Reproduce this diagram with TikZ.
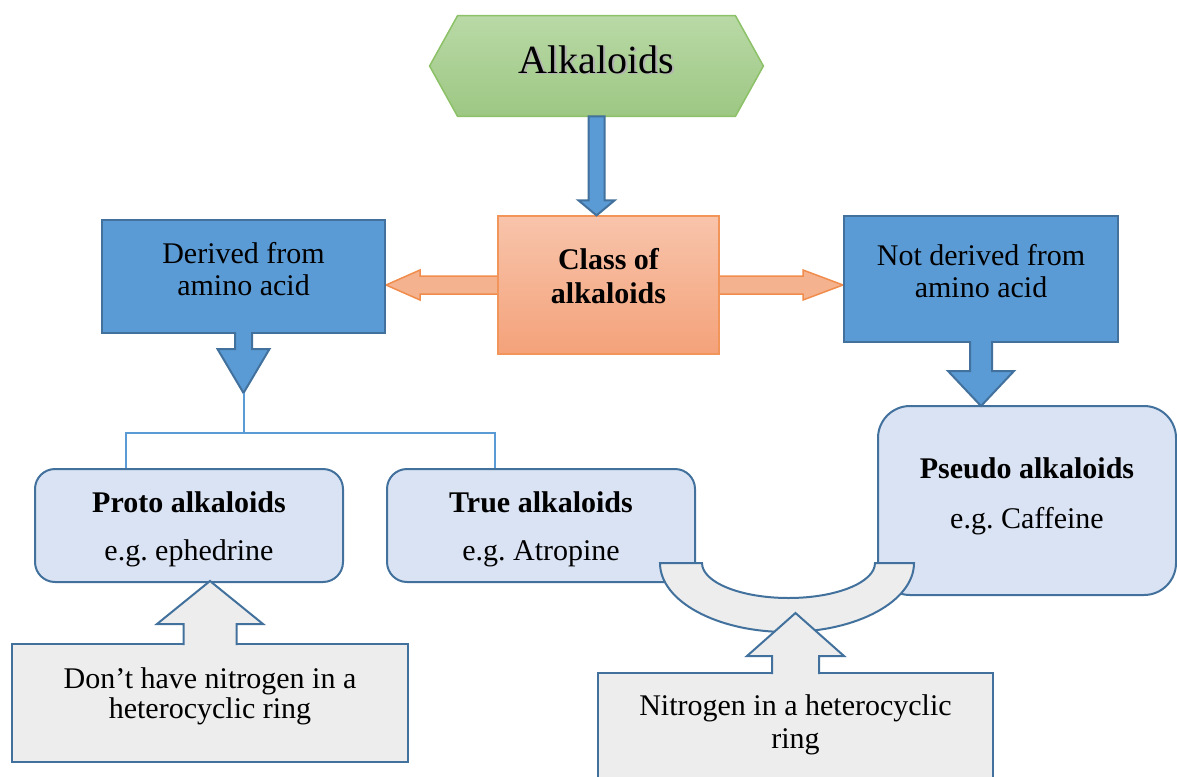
\documentclass[tikz,border=0pt]{standalone}
\usepackage{fontspec}
\setmainfont{Liberation Serif}
\usetikzlibrary{positioning, calc, backgrounds}
\frenchspacing

\definecolor{midblue}{HTML}{5B9BD5}
\definecolor{bordblue}{HTML}{41719C}
\definecolor{paleblue}{HTML}{DAE3F3}
\definecolor{palegray}{HTML}{EDEDED}
\definecolor{hextop}{HTML}{B9D9A6}
\definecolor{hexbot}{HTML}{9DC783}
\definecolor{hexline}{HTML}{8CC168}
\definecolor{clstop}{HTML}{F8C4AB}
\definecolor{clsbot}{HTML}{F4A27A}
\definecolor{clsline}{HTML}{F2955A}
\definecolor{orfill}{HTML}{F5B28E}
\definecolor{orline}{HTML}{F08C4C}

\begin{document}
\begin{tikzpicture}[x=0.5pt, y=-0.5pt,
         font = \fontsize{15}{16}\selectfont,
     bluebox/.style = {rectangle, draw=bordblue, line width=1pt, fill=midblue},
    classbox/.style = {rectangle, draw=clsline, line width=0.75pt, top color=clstop, bottom color=clsbot},
     kindbox/.style = {rectangle, rounded corners=10pt, draw=bordblue, line width=1pt, fill=paleblue},
     notebox/.style = {rectangle, draw=bordblue, line width=1pt, fill=palegray},
     boxtext/.style = {align=center, inner sep=0pt},
     fatblue/.style = {draw=bordblue, line width=1pt, fill=midblue},
     fatgray/.style = {draw=bordblue, line width=1pt, fill=palegray},
   fatorange/.style = {draw=orline, line width=0.75pt, fill=orfill},
        link/.style = {draw=midblue, line width=1pt}
                        ]
\useasboundingbox (0,0) rectangle (1177,776);
% top and middle row
\node (alk) [minimum width=166.5pt, minimum height=50pt,
    label={[boxtext, yshift=2.5pt, xshift=0.8pt, text=black!30, font=\fontsize{20}{22}\selectfont]center:Alkaloids},
    label={[boxtext, yshift=3.2pt, font=\fontsize{20}{22}\selectfont]center:Alkaloids}] at (596.5,66) {};
\node (cls) [classbox, minimum width=110.5pt, minimum height=69pt,
    label={[boxtext, yshift=4.5pt, font=\fontsize{15}{17}\selectfont\bfseries]center:Class of\\alkaloids}] at (608.5,285) {};
\node (der) [bluebox, minimum width=141.5pt, minimum height=56.5pt,
    label={[boxtext, yshift=3.75pt]center:Derived from\\amino acid}] at (243.5,276.5) {};
\node (notder) [bluebox, minimum width=137pt, minimum height=63pt,
    label={[boxtext, yshift=4pt]center:Not derived from\\amino acid}] at (981,279) {};
% kinds of alkaloids
\node (proto) [kindbox, minimum width=154pt, minimum height=56.5pt,
    label={[boxtext, yshift=-2pt]center:\textbf{Proto alkaloids}\\[8pt]e.g. ephedrine}] at (189,525.5) {};
\node (truealk) [kindbox, minimum width=154pt, minimum height=56.5pt, right=21pt of proto,
    label={[boxtext, yshift=-2pt]center:\textbf{True alkaloids}\\[8pt]e.g. Atropine}] {};
\node (pseudo) [kindbox, rounded corners=16pt, minimum width=149pt, minimum height=94.5pt,
    label={[boxtext, yshift=2.25pt]center:\textbf{Pseudo alkaloids}\\[9pt]e.g. Caffeine}] at (1027,500.5) {};
% notes at the bottom
\node (dont) [notebox, minimum width=198pt, minimum height=59pt,
    label={[boxtext, yshift=3.5pt, font=\fontsize{15}{15}\selectfont]center:Don’t have nitrogen in a\\heterocyclic ring}] at (210,703) {};
\node (nitro) [notebox, minimum width=197.5pt, minimum height=63.5pt,
    label={[boxtext, yshift=5.75pt, font=\fontsize{15}{16.5}\selectfont]center:Nitrogen in a heterocyclic\\ring}] at (795.5,736.5) {};

\begin{scope}[on background layer]
\path[draw=hexline, line width=0.75pt, top color=hextop, bottom color=hexbot]
    (alk.west) -- ([xshift=14pt]alk.north west) -- ([xshift=-14pt]alk.north east) -- (alk.east)
    -- ([xshift=-14pt]alk.south east) -- ([xshift=14pt]alk.south west) -- cycle;
\path[fatorange] let \p1 = (der.east |- cls.center), \p2 = (notder.west |- cls.center) in
    (\p1) -- ++(17pt,7.5pt) -- ++(0pt,-3pt) -- (\x2-20pt,\y1+4.5pt) -- ++(0pt,3pt) -- (\p2)
    -- ++(-20pt,-7.5pt) -- ++(0pt,3pt) -- (\x1+17pt,\y1-4.5pt) -- ++(0pt,-3pt) -- cycle;
\end{scope}

% block arrows
\draw[fatblue, shift={(alk.south)}] (-8,0) -- (-8,84) -- (-18,84) -- (0,99) -- (18,84) -- (8,84) -- (8,0) -- cycle;
\path[fatblue, shift={(der.south)}] (-8.5,-2) -- (-8.5,15) -- (-26,15) -- (0,59) coordinate (dertip)
    -- (26,15) -- (8.5,15) -- (8.5,-2);
\path[fatblue, shift={(notder.south)}] (-11,-2) -- (-11,28) -- (-33,28) -- (0,63) -- (33,28) -- (11,28) -- (11,-2);
\coordinate (split) at ($(dertip)+(0,40)$);
\draw[link] (dertip) -- (split) -| ($(proto.north)+(-63,0)$);
\draw[link] (split) -| ($(truealk.north)+(-46,0)$);
\path[fatgray, shift={(dont.north)}] (-26.5,2) -- (-26.5,-19) -- (-53,-19) -- (0,-62) -- (53,-19) -- (26.5,-19) -- (26.5,2);
% curved band under true and pseudo
\path[fatgray] (661,563) -- (702,563) arc[start angle=180, end angle=360, x radius=43.25pt, y radius=17.5pt]
    -- (914,563) arc[start angle=0, end angle=-180, x radius=63.5pt, y radius=34.5pt] -- cycle;
\path[fatgray, shift={(nitro.north)}] (-23.5,2) -- (-23.5,-16) -- (-48.5,-16) -- (0,-59) -- (48.5,-16) -- (23.5,-16) -- (23.5,2);
\end{tikzpicture}
\end{document}
